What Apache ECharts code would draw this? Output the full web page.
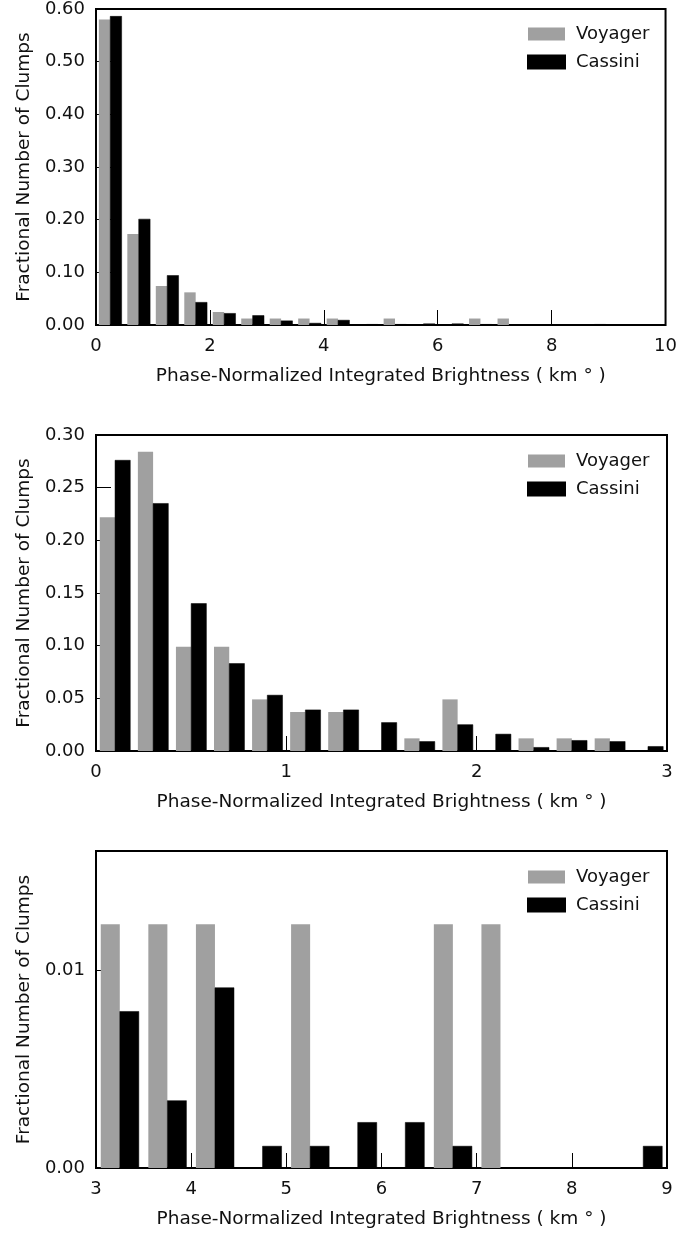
<!DOCTYPE html>
<html>
<head>
<meta charset="utf-8">
<script src="https://cdn.jsdelivr.net/npm/echarts@6/dist/echarts.min.js"></script>
<style>
  html, body { margin: 0; padding: 0; background: #fff; }
  #chart { width: 680px; height: 1236px; }
</style>
</head>
<body>
<div id="chart"></div>
<script>
// Histogram data: fraction of clumps per brightness bin (bin start values)
const seriesNames = ['Voyager', 'Cassini'];

// Panel 1: full range, 0.5-wide bins
const binsFull = [0, 0.5, 1, 1.5, 2, 2.5, 3, 3.5, 4, 4.5, 5, 5.5, 6, 6.5, 7, 7.5, 8, 8.5, 9, 9.5];
const voyagerFull = [0.580, 0.173, 0.074, 0.062, 0.0247, 0.0123, 0.0123, 0.0123, 0.0123, 0, 0.0123, 0, 0, 0.0123, 0.0123, 0, 0, 0, 0, 0];
const cassiniFull = [0.586, 0.201, 0.094, 0.043, 0.022, 0.018, 0.0079, 0.0034, 0.0091, 0.0011, 0.0011, 0.0023, 0.0023, 0.0011, 0, 0, 0, 0.0011, 0, 0];

// Panel 2: faint clumps, 0.2-wide bins
const binsLow = [0, 0.2, 0.4, 0.6, 0.8, 1.0, 1.2, 1.4, 1.6, 1.8, 2.0, 2.2, 2.4, 2.6, 2.8];
const voyagerLow = [0.222, 0.284, 0.099, 0.099, 0.049, 0.037, 0.037, 0, 0.012, 0.049, 0, 0.012, 0.012, 0.012, 0];
const cassiniLow = [0.276, 0.235, 0.140, 0.083, 0.053, 0.039, 0.039, 0.027, 0.009, 0.025, 0.016, 0.0034, 0.0100, 0.0090, 0.0043];

// Panel 3: bright tail, 0.5-wide bins
const binsHigh = [3, 3.5, 4, 4.5, 5, 5.5, 6, 6.5, 7, 7.5, 8, 8.5];
const voyagerHigh = [0.0123, 0.0123, 0.0123, 0, 0.0123, 0, 0, 0.0123, 0.0123, 0, 0, 0];
const cassiniHigh = [0.0079, 0.0034, 0.0091, 0.0011, 0.0011, 0.0023, 0.0023, 0.0011, 0, 0, 0, 0.0011];

// Axis tick settings
const yTicksFull = { min: 0, max: 0.6, interval: 0.1 };
const yTicksLow = { min: 0, max: 0.3, interval: 0.05 };
const yTicksHigh = { min: 0, max: 0.016, values: [0, 0.01] };
const xTicksFull = { min: 0, max: 10, interval: 2 };
const xTicksLow = { min: 0, max: 3, interval: 1 };
const xTicksHigh = { min: 3, max: 9, interval: 1 };

const xTitle = 'Phase-Normalized Integrated Brightness ( km \u00b0 )';
const yTitle = 'Fractional Number of Clumps';

const FONT = 'DejaVu Sans';
const TXT = '#111';
const GRAY = '#a0a0a0';
const BLACK = '#000';

const grids = [
  { left: 96, top: 8, width: 571, height: 317 },
  { left: 96, top: 435, width: 571, height: 316 },
  { left: 96, top: 851, width: 571, height: 317 }
].map(g => Object.assign({ show: true, borderColor: '#000', borderWidth: 2, backgroundColor: 'transparent' }, g));

// histogram bar inside its bin: start/end as fractions of the bin width
function histBar(binWidth, from, to) {
  return function (params, api) {
    const x0 = api.value(0) + from * binWidth;
    const x1 = api.value(0) + to * binWidth;
    const v = api.value(1);
    if (!v) return null;
    const pTop = api.coord([x0, v]);
    const pBot = api.coord([x1, 0]);
    return {
      type: 'rect',
      shape: { x: pTop[0], y: pTop[1], width: pBot[0] - pTop[0], height: pBot[1] - pTop[1] },
      style: api.style()
    };
  };
}

function pairs(bins, vals) {
  return bins.map((b, i) => [b, vals[i]]);
}

function xAxisFor(idx, t) {
  return {
    type: 'value', gridIndex: idx, min: t.min, max: t.max, interval: t.interval,
    axisLine: { show: false },
    axisTick: { show: true, inside: true, length: 15, lineStyle: { color: '#000', width: 1 } },
    splitLine: { show: false },
    axisLabel: { color: TXT, fontFamily: FONT, fontSize: 18, margin: 12 },
    name: xTitle, nameLocation: 'middle', nameGap: 42,
    nameTextStyle: { color: TXT, fontFamily: FONT, fontSize: 18.5 }
  };
}

function yAxisFor(idx, t) {
  const ax = {
    type: 'value', gridIndex: idx, min: t.min, max: t.max,
    axisLine: { show: false },
    axisTick: { show: true, inside: true, length: 15, lineStyle: { color: '#000', width: 1 } },
    splitLine: { show: false },
    axisLabel: { color: TXT, fontFamily: FONT, fontSize: 18, margin: 11, formatter: v => v.toFixed(2) },
    name: yTitle, nameLocation: 'middle', nameGap: 61,
    nameTextStyle: { color: TXT, fontFamily: FONT, fontSize: 18.5 }
  };
  if (t.values) {
    ax.axisLabel.customValues = t.values;
    ax.axisTick.customValues = t.values;
  } else {
    ax.interval = t.interval;
  }
  return ax;
}

const panels = [
  { bins: binsFull, w: 0.5, v: voyagerFull, c: cassiniFull },
  { bins: binsLow, w: 0.2, v: voyagerLow, c: cassiniLow },
  { bins: binsHigh, w: 0.5, v: voyagerHigh, c: cassiniHigh }
];

const series = [];
panels.forEach((p, i) => {
  series.push({
    type: 'custom', name: seriesNames[0], xAxisIndex: i, yAxisIndex: i,
    renderItem: histBar(p.w, 0.1, 0.5), itemStyle: { color: GRAY },
    data: pairs(p.bins, p.v), clip: true, silent: true
  });
  series.push({
    type: 'custom', name: seriesNames[1], xAxisIndex: i, yAxisIndex: i,
    renderItem: histBar(p.w, 0.5, 0.9), itemStyle: { color: BLACK, borderColor: BLACK, borderWidth: 0.5 },
    data: pairs(p.bins, p.c), clip: true, silent: true
  });
});

const legendTops = [20, 447, 863];
const legends = legendTops.map(top => ({
  orient: 'vertical', left: 522, top: top,
  icon: 'rect', itemWidth: 37, itemHeight: 13, itemGap: 10,
  data: seriesNames,
  selectedMode: false,
  textStyle: { color: TXT, fontFamily: FONT, fontSize: 18, padding: [0, 0, 0, 6] }
}));

const chart = echarts.init(document.getElementById('chart'), null, { renderer: 'canvas' });
chart.setOption({
  animation: false,
  backgroundColor: '#fff',
  grid: grids,
  legend: legends,
  xAxis: [xAxisFor(0, xTicksFull), xAxisFor(1, xTicksLow), xAxisFor(2, xTicksHigh)],
  yAxis: [yAxisFor(0, yTicksFull), yAxisFor(1, yTicksLow), yAxisFor(2, yTicksHigh)],
  series: series
});
</script>
</body>
</html>
